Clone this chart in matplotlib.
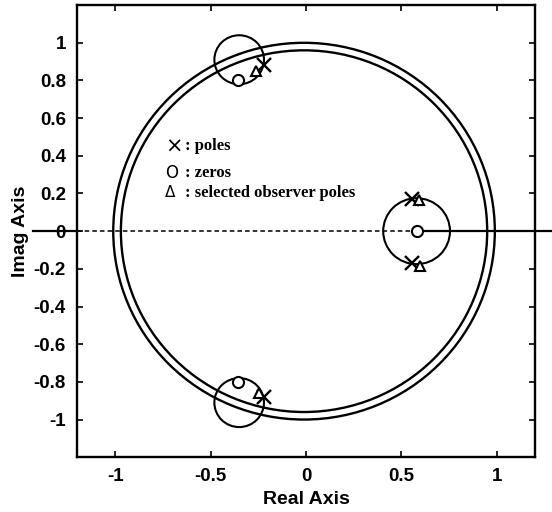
import numpy as np
import matplotlib.pyplot as plt
from matplotlib.patches import Circle

# root locus pieces
big_radii = [1.0, 0.96]
big_center = (-0.01, 0.0)
small_centers = [(-0.35, 0.91), (-0.35, -0.91), (0.58, 0.0)]
small_radii = [0.13, 0.13, 0.175]

pole_re = [-0.22, -0.22, 0.557, 0.557]
pole_im = [0.88, -0.88, 0.17, -0.17]
zero_re = [-0.357, -0.357, 0.58]
zero_im = [0.80, -0.80, 0.0]
obs_re = [-0.26, -0.245, 0.592, 0.598]
obs_im = [0.85, -0.86, 0.165, -0.185]

xticks = [-1, -0.5, 0, 0.5, 1]
xlabels = ['-1', '-0.5', '0', '0.5', '1']
yticks = [1, 0.8, 0.6, 0.4, 0.2, 0, -0.2, -0.4, -0.6, -0.8, -1]
ylabels = ['1', '0.8', '0.6', '0.4', '0.2', '0', '-0.2', '-0.4', '-0.6', '-0.8', '-1']

legend_syms = ['\u00d7', 'O', '\u0394']
legend_sym_size = [15, 12, 11]
legend_txt = [': poles', ': zeros', ': selected observer poles']
legend_y = [0.45, 0.31, 0.205]

fig = plt.figure(figsize=(5.52, 5.12), dpi=100)
ax = fig.add_axes([0.1395, 0.107, 0.8295, 0.883])

for r in big_radii:
    ax.add_patch(Circle(big_center, r, fill=False, color='black', lw=1.7))
for c, r in zip(small_centers, small_radii):
    ax.add_patch(Circle(c, r, fill=False, color='black', lw=1.5))

# real axis: dashed reference line, solid locus branches on the real axis
ax.plot([-1.2, 0.58], [0, 0], color='black', lw=1.1, ls=(0, (3, 2)))
ax.plot([0.58, 1.29], [0, 0], color='black', lw=1.6, clip_on=False)
ax.plot([-1.43, -1.2], [0, 0], color='black', lw=1.6, clip_on=False)

ax.plot(pole_re, pole_im, 'x', color='black', ms=10, mew=1.7)
ax.plot(zero_re, zero_im, 'o', mfc='white', mec='black', ms=8, mew=1.5)
ax.plot(obs_re, obs_im, '^', mfc='white', mec='black', ms=6.5, mew=1.5)

for sym, sz, txt, y in zip(legend_syms, legend_sym_size, legend_txt, legend_y):
    ax.text(-0.74, y, sym, family='DejaVu Sans', fontsize=sz,
            va='center', ha='left')
    ax.text(-0.635, y, txt, family='Liberation Serif', fontweight='bold',
            fontsize=12, va='center', ha='left')

ax.set_xlim(-1.2, 1.2)
ax.set_ylim(-1.2, 1.2)
ax.set_xticks(xticks)
ax.set_xticklabels(xlabels)
ax.set_yticks(yticks)
ax.set_yticklabels(ylabels)
ax.tick_params(direction='in', top=True, right=True, length=4, width=1.2,
               labelsize=13.5, pad=8)
for lab in ax.get_xticklabels() + ax.get_yticklabels():
    lab.set_family('Liberation Sans')
    lab.set_fontweight('bold')
for sp in ax.spines.values():
    sp.set_linewidth(1.7)

ax.set_xlabel('Real Axis', family='Liberation Sans', fontweight='bold',
              fontsize=14, labelpad=4)
ax.set_ylabel('Imag Axis', family='Liberation Sans', fontweight='bold',
              fontsize=14, labelpad=3)

fig.savefig('out.png', dpi=100)
